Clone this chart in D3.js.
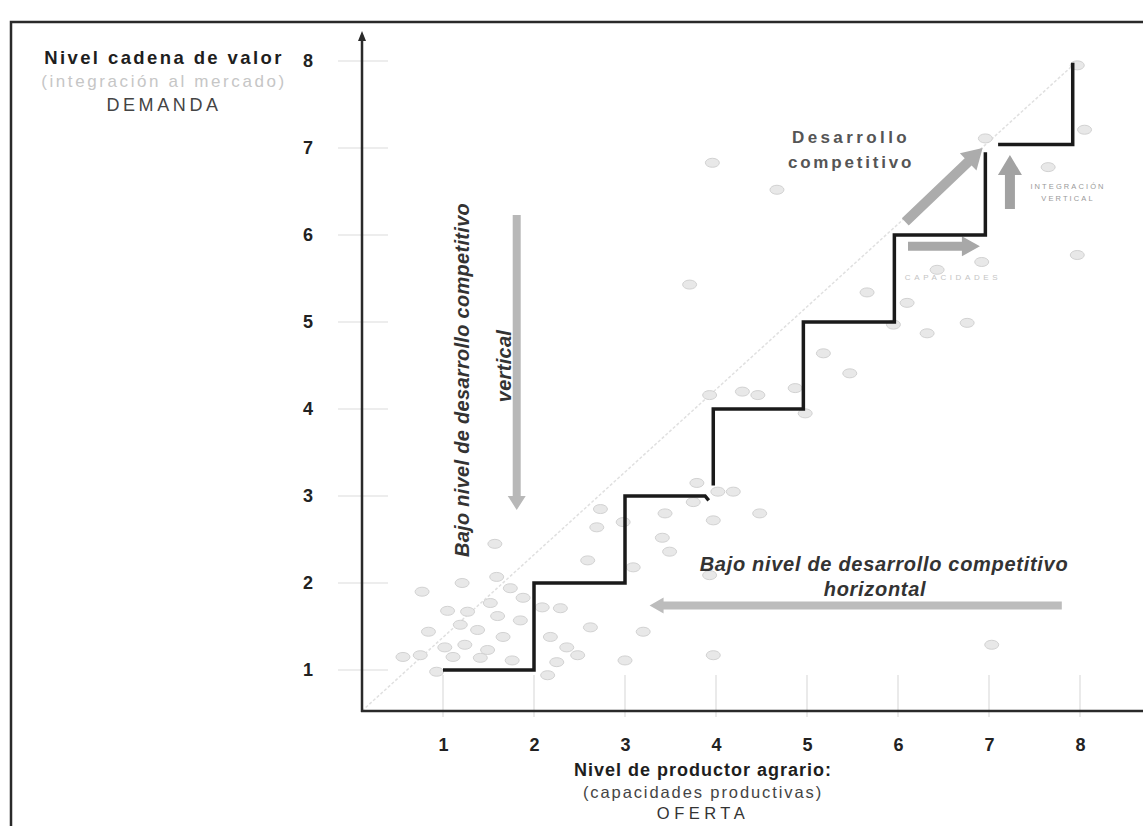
<!DOCTYPE html>
<html><head><meta charset="utf-8">
<script src="https://cdn.jsdelivr.net/npm/d3@7/dist/d3.min.js"></script>
<style>
html,body{margin:0;padding:0;background:#fff;}
svg{display:block;font-family:"Liberation Sans",Arial,sans-serif;}
</style></head>
<body>
<svg id="c" width="1143" height="826"></svg>
<script>
// ---- data ----
const xTicks = [1,2,3,4,5,6,7,8];
const yTicks = [1,2,3,4,5,6,7,8];
const xTickLabels = ["1","2","3","4","5","6","7","8"];
const yTickLabels = ["1","2","3","4","5","6","7","8"];

// staircase (three drawn pieces)
const stepA = [[1,1],[2,1],[2,2],[3,2],[3,3],[3.88,3],[3.92,2.95]];
const stepB = [[3.97,3.12],[3.97,4],[4.96,4],[4.96,5],[5.96,5],[5.96,6],[6.96,6],[6.96,6.95]];
const stepC = [[7.1,7.04],[7.92,7.04],[7.92,7.98]];

// reference diagonal
const diagonal = [[0.11,0.53],[7.9,7.93]];

// scatter of producers
const pointsX = [0.77,1.21,1.59,1.74,1.57,1.52,1.05,1.27,1.60,1.85,1.88,1.19,0.84,1.38,1.66,1.02,1.24,1.49,0.56,0.75,1.11,1.41,1.76,0.93,2.18,2.29,2.09,2.25,2.15,2.36,2.48,2.62,3.20,3.00,3.97,
  2.73,2.69,2.98,3.44,3.79,3.75,4.02,4.19,3.97,3.41,3.49,2.59,3.09,3.93,4.48,
  3.93,4.29,4.46,4.87,4.98,5.18,5.47,5.66,6.10,5.95,6.32,6.76,6.43,6.92,7.97,3.71,3.96,4.67,6.96,7.65,8.05,7.03,7.97];
const pointsY = [1.90,2.00,2.07,1.94,2.45,1.77,1.68,1.67,1.62,1.57,1.83,1.52,1.44,1.46,1.38,1.26,1.29,1.23,1.15,1.17,1.15,1.14,1.11,0.98,1.38,1.71,1.72,1.09,0.94,1.26,1.17,1.49,1.44,1.11,1.17,
  2.85,2.64,2.70,2.80,3.15,2.93,3.05,3.05,2.72,2.52,2.36,2.26,2.18,2.09,2.80,
  4.16,4.20,4.16,4.24,3.95,4.64,4.41,5.34,5.22,4.97,4.87,4.99,5.60,5.69,5.77,5.43,6.83,6.52,7.11,6.78,7.21,1.29,7.95];

// annotation arrows [x1,y1,x2,y2] in data units
const arrowDown  = [1.81,6.23,1.81,2.84];
const arrowLeft  = [7.80,1.74,3.27,1.74];
const arrowDiag  = [6.08,6.15,6.93,7.0];
const arrowRight = [6.11,5.87,6.90,5.87];
const arrowUp    = [7.23,6.30,7.23,6.92];

// ---- scales ----
const x = d3.scaleLinear().domain([1,8]).range([443,1080]);
const y = d3.scaleLinear().domain([1,8]).range([670,61]);
const axisX0 = 0.11, axisY0 = 0.53;

const svg = d3.select("#c");

// frame
svg.append("path").attr("d","M11,826 L11,22 L1143,22").attr("fill","none").attr("stroke","#2a2a2a").attr("stroke-width",2.5);

// faint tick marks
svg.append("g").selectAll("line").data(yTicks).join("line")
  .attr("x1",338).attr("x2",388).attr("y1",d=>y(d)).attr("y2",d=>y(d))
  .attr("stroke","#dcdcdc").attr("stroke-width",1.2);
svg.append("g").selectAll("line").data(xTicks).join("line")
  .attr("x1",d=>x(d)).attr("x2",d=>x(d)).attr("y1",y(axisY0)-36).attr("y2",y(axisY0)+6)
  .attr("stroke","#dcdcdc").attr("stroke-width",1.2);

// diagonal
svg.append("path").attr("d",d3.line().x(d=>x(d[0])).y(d=>y(d[1]))(diagonal))
  .attr("fill","none").attr("stroke","#e0e0e0").attr("stroke-width",1.5).attr("stroke-dasharray","3,2");

// points
svg.append("g").selectAll("ellipse").data(pointsX.map((v,i)=>[v,pointsY[i]])).join("ellipse")
  .attr("cx",d=>x(d[0])).attr("cy",d=>y(d[1])).attr("rx",7).attr("ry",4.5)
  .attr("fill","#e8e8e8").attr("stroke","#d2d2d2").attr("stroke-width",1);

// axes lines
svg.append("line").attr("x1",x(axisX0)).attr("x2",x(axisX0)).attr("y1",y(axisY0)+1).attr("y2",y(8.3))
  .attr("stroke","#2a2a2a").attr("stroke-width",2.5);
svg.append("path").attr("d",`M${x(axisX0)-4},${y(8.3)+6} L${x(axisX0)},${y(8.3)-4} L${x(axisX0)+4},${y(8.3)+6}Z`).attr("fill","#2a2a2a");
svg.append("line").attr("x1",x(axisX0)-1).attr("x2",1143).attr("y1",y(axisY0)).attr("y2",y(axisY0))
  .attr("stroke","#2a2a2a").attr("stroke-width",2.5);

// tick labels via axes
const ax = svg.append("g").attr("transform",`translate(0,${y(axisY0)})`)
  .call(d3.axisBottom(x).tickValues(xTicks).tickFormat((d,i)=>xTickLabels[i]).tickSize(0).tickPadding(27));
const ay = svg.append("g").attr("transform",`translate(${x(axisX0)},0)`)
  .call(d3.axisLeft(y).tickValues(yTicks).tickFormat((d,i)=>yTickLabels[i]).tickSize(0).tickPadding(49));
[ax,ay].forEach(g=>{g.select(".domain").remove();
  g.selectAll("text").attr("font-family","'Liberation Sans',Arial,sans-serif").attr("font-size",18).attr("font-weight","bold").attr("fill","#222");});

// arrows
function arrow(a, shaft, headW, headL, col){
  const x1=x(a[0]),y1=y(a[1]),x2=x(a[2]),y2=y(a[3]);
  const dx=x2-x1, dy=y2-y1, L=Math.hypot(dx,dy), ux=dx/L, uy=dy/L, px=-uy, py=ux;
  const bx=x2-ux*headL, by=y2-uy*headL;
  const p=[[x1+px*shaft/2,y1+py*shaft/2],[bx+px*shaft/2,by+py*shaft/2],[bx+px*headW/2,by+py*headW/2],[x2,y2],
           [bx-px*headW/2,by-py*headW/2],[bx-px*shaft/2,by-py*shaft/2],[x1-px*shaft/2,y1-py*shaft/2]];
  svg.append("path").attr("d","M"+p.map(q=>q.join(",")).join("L")+"Z").attr("fill",col);
}
arrow(arrowDown, 8, 18, 14, "#b8b8b8");
arrow(arrowLeft, 8, 16, 14, "#bcbcbc");
arrow(arrowDiag, 10, 24, 20, "#acacac");
arrow(arrowRight, 9, 20, 18, "#a8a8a8");
arrow(arrowUp, 10, 24, 20, "#a2a2a2");

// staircase
const line = d3.line().x(d=>x(d[0])).y(d=>y(d[1]));
[stepA,stepB,stepC].forEach(s=>svg.append("path").attr("d",line(s)).attr("fill","none")
  .attr("stroke","#1a1a1a").attr("stroke-width",3.5).attr("stroke-linejoin","miter"));

// texts
function txt(t,xp,yp,o){
  const e=svg.append("text").attr("x",xp).attr("y",yp).attr("text-anchor",o.anchor||"middle")
   .attr("font-size",o.size||16).attr("font-weight",o.weight||"normal").attr("fill",o.fill||"#222")
   .attr("font-style",o.style||"normal").attr("letter-spacing",o.ls||0).text(t);
  if(o.rot) e.attr("transform",`rotate(${o.rot},${xp},${yp})`);
  return e;
}
txt("Nivel cadena de valor",164,64,{size:18.5,weight:"bold",fill:"#1e1e1e",ls:2.4});
txt("(integración al mercado)",164,87,{size:17,fill:"#c6c6c6",ls:2.6});
txt("DEMANDA",164,111,{size:18,fill:"#444",ls:3.6});

txt("Nivel de productor agrario:",703,776,{size:18,weight:"bold",fill:"#1e1e1e",ls:1});
txt("(capacidades productivas)",703,798,{size:16.5,fill:"#444",ls:1.9});
txt("OFERTA",703,819,{size:16.5,fill:"#333",ls:4.5});

txt("Desarrollo",851,143,{size:17,weight:"bold",fill:"#555",ls:3.4});
txt("competitivo",851,168,{size:17,weight:"bold",fill:"#555",ls:2.8});

txt("INTEGRACIÓN",1068,189,{size:7.5,fill:"#999",ls:2.1});
txt("VERTICAL",1068,201,{size:7.5,fill:"#999",ls:2.1});
txt("CAPACIDADES",953,280,{size:8,fill:"#c4c4c4",ls:3.6});

txt("Bajo nivel de desarrollo competitivo",884,571,{size:20,weight:"bold",style:"italic",fill:"#333",ls:0.7});
txt("horizontal",875,596,{size:20,weight:"bold",style:"italic",fill:"#333",ls:0.7});

txt("Bajo nivel de desarrollo competitivo",469,380,{size:20,weight:"bold",style:"italic",fill:"#333",ls:0.3,rot:-90});
txt("vertical",511,366,{size:20,weight:"bold",style:"italic",fill:"#333",ls:0.3,rot:-90});
</script>
</body></html>
